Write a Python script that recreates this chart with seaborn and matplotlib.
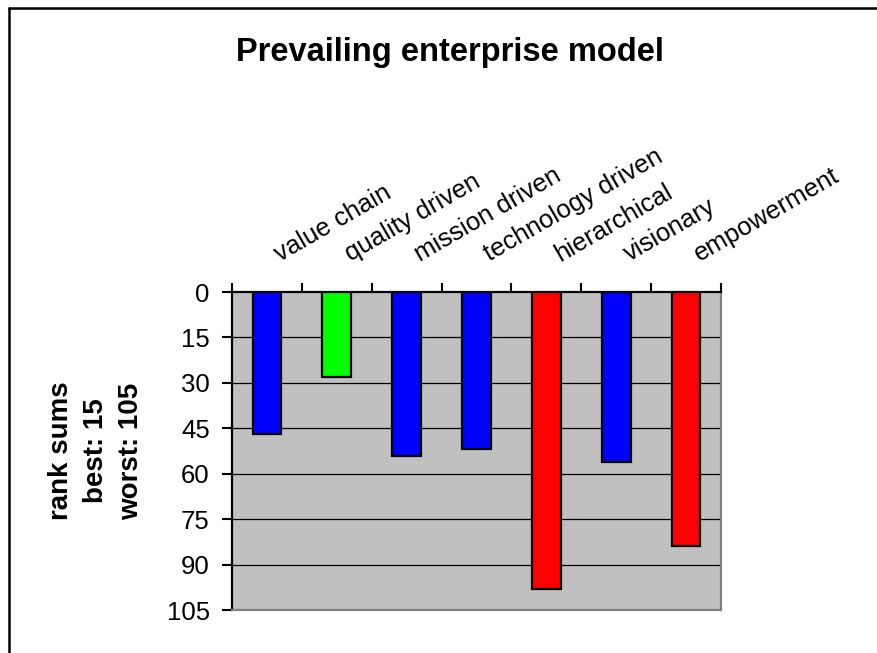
import matplotlib
matplotlib.use("Agg")
import matplotlib.pyplot as plt
from matplotlib.lines import Line2D
from matplotlib.transforms import ScaledTranslation, blended_transform_factory
import numpy as np
import seaborn as sns

# categories and rank sums (lower is better)
models = ["value chain", "quality driven", "mission driven", "technology driven",
          "hierarchical", "visionary", "empowerment"]
rank_sums = [47, 28, 54, 52, 98, 56, 84]
bar_colors = ["#0000FF", "#00FF00", "#0000FF", "#0000FF", "#FF0000", "#0000FF", "#FF0000"]
y_ticks = [0, 15, 30, 45, 60, 75, 90, 105]

sns.set_style("white")
plt.rcParams["font.family"] = ["Liberation Sans", "DejaVu Sans"]
plt.rcParams["text.color"] = "black"
plt.rcParams["axes.labelcolor"] = "black"
plt.rcParams["xtick.color"] = "black"
plt.rcParams["ytick.color"] = "black"

fig = plt.figure(figsize=(8.78, 6.53), dpi=100)
ax = fig.add_axes([232 / 878, 1 - 610 / 653, 489 / 878, 318 / 653])
ax.set_facecolor("#C0C0C0")

sns.barplot(x=models, y=rank_sums, hue=models, palette=bar_colors, legend=False,
            width=0.41, edgecolor="black", linewidth=1.6, saturation=1, ax=ax, zorder=3)

ax.set_ylim(105, 0)
ax.set_xlim(-0.5, len(models) - 0.5)
ax.set_yticks(y_ticks)
ax.set_yticklabels([str(t) for t in y_ticks], fontsize=18.5)
for t in y_ticks[1:-1]:
    ax.axhline(t, color="black", lw=0.9, zorder=1)

# ticks at category boundaries on top; category names written above, rotated
ax.xaxis.tick_top()
ax.set_xticks(np.arange(len(models) + 1) - 0.5)
ax.set_xticklabels([])
ax.tick_params(axis="x", top=True, bottom=False, length=6.5, width=1.5, direction="out")
ax.tick_params(axis="y", left=True, length=7, width=1.5, direction="out", pad=9)
ax.set_xlabel("")
ax.set_ylabel("")

label_tr = blended_transform_factory(ax.transData, ax.transAxes) + \
    ScaledTranslation(0.135, 0.30, fig.dpi_scale_trans)
for i, name in enumerate(models):
    ax.text(i, 1, name, transform=label_tr, rotation=30, rotation_mode="anchor",
            ha="left", va="baseline", fontsize=18.5, clip_on=False)

for side in ["left", "top"]:
    ax.spines[side].set_color("black")
    ax.spines[side].set_linewidth(1.6)
for side in ["right", "bottom"]:
    ax.spines[side].set_color("#808080")
    ax.spines[side].set_linewidth(1.6)

fig.text(96 / 878, 1 - 451 / 653, "rank sums\nbest: 15\nworst: 105", rotation=90,
         ha="center", va="center", multialignment="center", fontsize=20, fontweight="bold",
         linespacing=1.45)

fig.text(450 / 878, 1 - 52 / 653, "Prevailing enterprise model", ha="center", va="center",
         fontsize=23.5, fontweight="bold")

# outer frame (top and left edges visible)
fig.add_artist(Line2D([9.5 / 878, 1], [1 - 7.5 / 653, 1 - 7.5 / 653], color="black", lw=1.8, transform=fig.transFigure))
fig.add_artist(Line2D([9.5 / 878, 9.5 / 878], [0, 1 - 7.5 / 653], color="black", lw=1.8, transform=fig.transFigure))

fig.savefig("out.png", dpi=100)
